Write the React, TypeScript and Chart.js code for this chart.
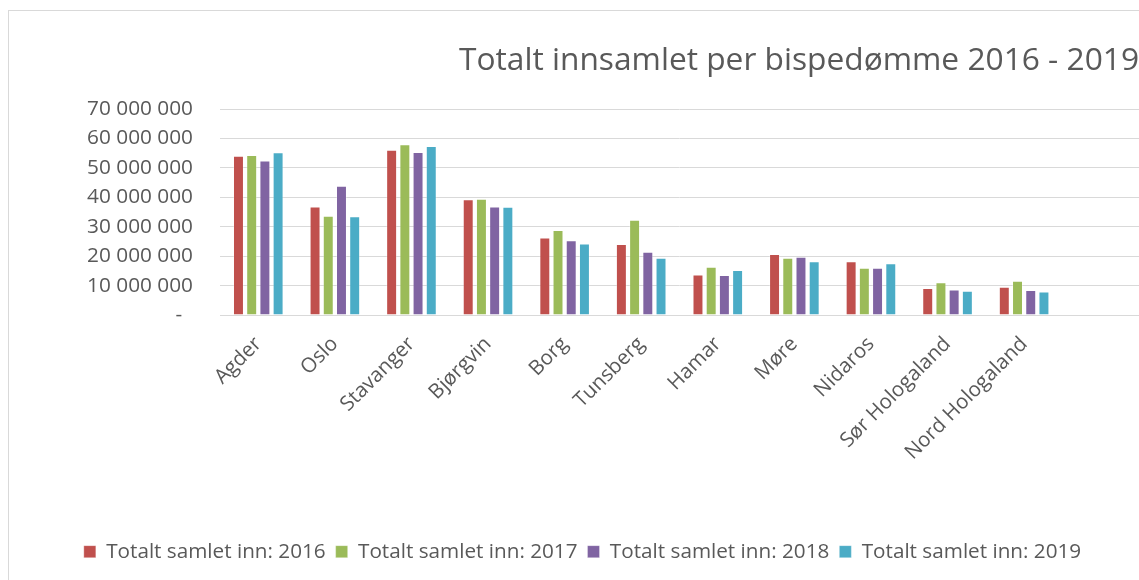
import React, { useEffect, useRef } from "react";
import { Chart, registerables } from "chart.js";

Chart.register(...registerables);

const categories = [
  "Agder",
  "Oslo",
  "Stavanger",
  "Bjørgvin",
  "Borg",
  "Tunsberg",
  "Hamar",
  "Møre",
  "Nidaros",
  "Sør Hologaland",
  "Nord Hologaland",
  "",
];

const values2016 = [54100000, 36900000, 56200000, 39300000, 26300000, 24100000, 13800000, 20700000, 18300000, 9200000, 9600000, null];
const values2017 = [54400000, 33700000, 58000000, 39500000, 28900000, 32400000, 16400000, 19500000, 16100000, 11100000, 11600000, null];
const values2018 = [52500000, 43900000, 55400000, 36900000, 25400000, 21500000, 13600000, 19800000, 16100000, 8700000, 8500000, null];
const values2019 = [55300000, 33600000, 57400000, 36800000, 24300000, 19500000, 15300000, 18300000, 17600000, 8200000, 8000000, null];

const seriesLabels = [
  "Totalt samlet inn: 2016",
  "Totalt samlet inn: 2017",
  "Totalt samlet inn: 2018",
  "Totalt samlet inn: 2019",
];
const seriesColors = ["#C0504D", "#9BBB59", "#8064A2", "#4BACC6"];

const titleText = "Totalt innsamlet per bispedømme 2016 - 2019";
const yMax = 70000000;
const yStep = 10000000;

const FONT = "'Open Sans', 'Noto Sans', sans-serif";
const TEXT = "#595959";
const GRID = "#D9D9D9";

function formatTick(v: number): string {
  if (v === 0) return "-  ";
  return Math.round(v)
    .toString()
    .replace(/\B(?=(\d{3})+(?!\d))/g, " ");
}

export default function App() {
  const ref = useRef<HTMLCanvasElement | null>(null);

  useEffect(() => {
    if (!ref.current) return;
    const allValues = [values2016, values2017, values2018, values2019];
    const chart = new Chart(ref.current, {
      type: "bar",
      data: {
        labels: categories,
        datasets: allValues.map((vals, i) => ({
          label: seriesLabels[i],
          data: vals,
          backgroundColor: seriesColors[i],
          borderColor: "rgba(255,255,255,0.3)",
          borderWidth: 1,
          categoryPercentage: 0.69,
          barPercentage: 0.83,
        })),
      },
      options: {
        responsive: false,
        animation: false,
        layout: { padding: { left: 17, right: 0, top: 0, bottom: 8 } },
        plugins: {
          title: {
            display: true,
            text: titleText,
            align: "end",
            color: TEXT,
            font: { family: FONT, size: 31.7, weight: "normal", lineHeight: 1.2 },
            padding: { top: 31, bottom: 29 },
          },
          legend: {
            position: "bottom",
            labels: {
              color: TEXT,
              font: { family: FONT, size: 20.7 },
              boxWidth: 12,
              boxHeight: 12,
              padding: 10,
            },
          },
          tooltip: { enabled: false },
        },
        scales: {
          x: {
            grid: { display: false, drawTicks: false },
            border: { display: true, color: GRID, width: 1 },
            ticks: {
              color: TEXT,
              font: { family: FONT, size: 20.5 },
              minRotation: 45,
              maxRotation: 45,
              autoSkip: false,
              padding: 17,
            },
            afterFit: (scale: any) => {
              const legendH = scale.chart.legend ? scale.chart.legend.height : 50;
              scale.height = scale.chart.height - 304 - legendH - 8;
            },
          },
          y: {
            min: 0,
            max: yMax,
            grid: { color: GRID, lineWidth: 1, drawTicks: false },
            border: { display: false },
            ticks: {
              stepSize: yStep,
              color: TEXT,
              font: { family: FONT, size: 20.8 },
              padding: 27,
              callback: (v: any) => formatTick(Number(v)),
            },
            afterFit: (scale: any) => {
              scale.width = 194;
            },
          },
        },
      },
    });
    return () => chart.destroy();
  }, []);

  return (
    <div
      style={{
        position: "absolute",
        left: 8,
        top: 10,
        width: 1131,
        height: 570,
        borderTop: "1px solid #D9D9D9",
        borderLeft: "1px solid #D9D9D9",
        background: "#fff",
        overflow: "hidden",
      }}
    >
      <canvas ref={ref} width={1130} height={569} style={{ display: "block" }} />
    </div>
  );
}
